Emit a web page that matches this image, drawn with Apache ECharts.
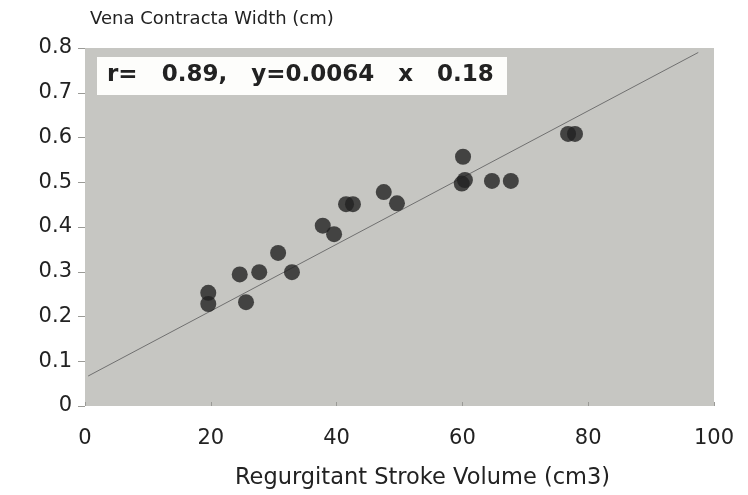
<!DOCTYPE html>
<html>
<head>
<meta charset="utf-8">
<script src="https://cdn.jsdelivr.net/npm/echarts@6/dist/echarts.min.js"></script>
<style>html,body{margin:0;padding:0;background:#fff}#c{width:748px;height:495px}</style>
</head>
<body>
<div id="c"></div>
<script>
// Data
const strokeVolume = [19.6, 19.6, 24.6, 25.6, 27.7, 30.7, 32.9, 37.8, 39.6, 41.5, 42.6, 47.5, 49.6, 60.1, 59.9, 60.4, 64.7, 67.7, 76.8, 77.9];
const venaWidth    = [0.253, 0.228, 0.294, 0.232, 0.299, 0.342, 0.299, 0.403, 0.384, 0.451, 0.451, 0.478, 0.453, 0.557, 0.497, 0.505, 0.503, 0.503, 0.608, 0.608];
const fitLineX = [0.5, 97.5];
const fitLineY = [0.067, 0.79];
const xTickLabels = ['0', '20', '40', '60', '80', '100'];
const yTickLabels = ['0', '0.1', '0.2', '0.3', '0.4', '0.5', '0.6', '0.7', '0.8'];
const annotation = 'r=   0.89,   y=0.0064   x   0.18';

const chart = echarts.init(document.getElementById('c'), null, {renderer: 'canvas'});
const FONT = 'DejaVu Sans';

chart.setOption({
  animation: false,
  backgroundColor: '#ffffff',
  grid: {left: 85, top: 48, width: 629, height: 358, show: true, backgroundColor: '#c6c6c2', borderWidth: 0},
  xAxis: {
    type: 'value', min: 0, max: 100, interval: 20,
    axisLine: {show: false},
    axisTick: {show: true, inside: true, length: 4, lineStyle: {color: '#9a9a96'}},
    splitLine: {show: false},
    axisLabel: {
      margin: 22, color: '#222', fontFamily: FONT, fontSize: 21,
      formatter: v => xTickLabels[Math.round(v / 20)]
    },
    name: 'Regurgitant Stroke Volume (cm3)',
    nameLocation: 'middle', nameGap: 61,
    nameTextStyle: {color: '#222', fontFamily: FONT, fontSize: 22.5, padding: [0, 0, 0, 46]}
  },
  yAxis: {
    type: 'value', min: 0, max: 0.8, interval: 0.1,
    axisLine: {show: false},
    axisTick: {show: true, length: 7, lineStyle: {color: '#9a9a96'}},
    splitLine: {show: false},
    axisLabel: {
      margin: 13, color: '#222', fontFamily: FONT, fontSize: 21,
      formatter: v => yTickLabels[Math.round(v * 10)]
    },
    name: 'Vena Contracta Width (cm)',
    nameLocation: 'end', nameGap: 20,
    nameTextStyle: {color: '#222', fontFamily: FONT, fontSize: 18, align: 'left', padding: [0, 0, 0, 5]}
  },
  graphic: [
    {type: 'rect', left: 97, top: 57, shape: {width: 410, height: 38}, style: {fill: '#fdfdfb'}, z: 10},
    {type: 'text', left: 107, top: 64, style: {text: annotation, fill: '#222', font: 'bold 23px "DejaVu Sans"'}, z: 11}
  ],
  series: [
    {
      type: 'line',
      data: fitLineX.map((x, i) => [x, fitLineY[i]]),
      symbol: 'none',
      lineStyle: {color: '#707070', width: 1},
      z: 2
    },
    {
      type: 'scatter',
      data: strokeVolume.map((x, i) => [x, venaWidth[i]]),
      symbol: 'circle', symbolSize: 16,
      itemStyle: {color: '#222222'},
      z: 3
    }
  ]
});
</script>
</body>
</html>
